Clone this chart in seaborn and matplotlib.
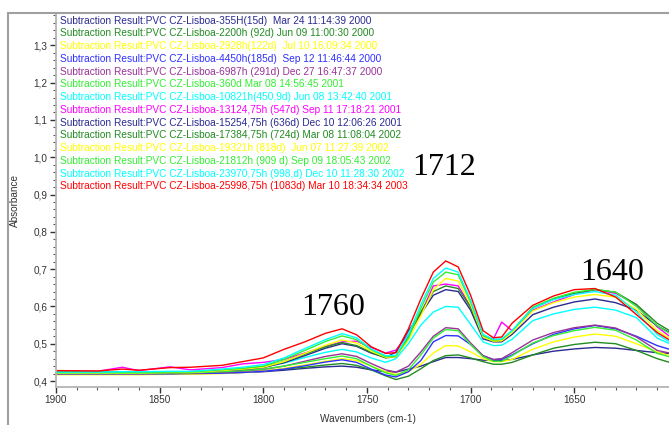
"""
plot.py - FTIR subtraction spectra of PVC CZ-Lisboa samples (carbonyl region)
"""

import pandas as pd
import matplotlib
matplotlib.use('Agg')
import matplotlib.pyplot as plt
from matplotlib.lines import Line2D
from matplotlib.ticker import FuncFormatter, MultipleLocator
import seaborn as sns

# Wavenumber grid (cm-1)
WAVENUMBERS = [1900, 1880, 1868, 1860, 1845, 1835, 1820, 1810, 1800, 1790, 1780, 1770,
               1762, 1755, 1748, 1741, 1736, 1730, 1724, 1718, 1712, 1706, 1700, 1694,
               1689, 1685, 1680, 1670, 1660, 1650, 1640, 1630, 1620, 1610, 1604]

LABELS = [
    "Subtraction Result:PVC CZ-Lisboa-355H(15d)  Mar 24 11:14:39 2000",
    "Subtraction Result:PVC CZ-Lisboa-2200h (92d) Jun 09 11:00:30 2000",
    "Subtraction Result:PVC CZ-Lisboa-2928h(122d)  Jul 10 16:09:34 2000",
    "Subtraction Result:PVC CZ-Lisboa-4450h(185d)  Sep 12 11:46:44 2000",
    "Subtraction Result:PVC CZ-Lisboa-6987h (291d) Dec 27 16:47:37 2000",
    "Subtraction Result:PVC CZ-Lisboa-360d Mar 08 14:56:45 2001",
    "Subtraction Result:PVC CZ-Lisboa-10821h(450,9d) Jun 08 13:42:40 2001",
    "Subtraction Result:PVC CZ-Lisboa-13124,75h (547d) Sep 11 17:18:21 2001",
    "Subtraction Result:PVC CZ-Lisboa-15254,75h (636d) Dec 10 12:06:26 2001",
    "Subtraction Result:PVC CZ-Lisboa-17384,75h (724d) Mar 08 11:08:04 2002",
    "Subtraction Result:PVC CZ-Lisboa-19321h (818d)  Jun 07 11:27:39 2002",
    "Subtraction Result:PVC CZ-Lisboa-21812h (909 d) Sep 09 18:05:43 2002",
    "Subtraction Result:PVC CZ-Lisboa-23970,75h (998,d) Dec 10 11:28:30 2002",
    "Subtraction Result:PVC CZ-Lisboa-25998,75h (1083d) Mar 10 18:34:34 2003",
]

COLORS = ['#2a2a90', '#228b22', '#ffff00', '#3030ff', '#993399', '#33ee33', '#00ffff',
          '#ff00ff', '#2a2a90', '#228b22', '#ffff00', '#33ee33', '#00ffff', '#ff0000']

# Absorbance values, one list per spectrum (same order as LABELS)
S01 = [.419, .419, .419, .419, .420, .420, .421, .423, .425, .429, .434, .438, .440, .437, .430, .425, .424,
       .432, .440, .452, .463, .463, .460, .456, .455, .455, .458, .470, .480, .486, .490, .488, .482, .476, .474]
S02 = [.421, .421, .420, .420, .421, .421, .422, .424, .427, .432, .437, .443, .447, .442, .430, .414, .404,
       .413, .433, .455, .468, .470, .462, .452, .445, .445, .450, .470, .488, .498, .504, .500, .482, .460, .450]
S03 = [.417, .417, .417, .417, .418, .418, .420, .423, .427, .434, .443, .453, .460, .455, .440, .425, .418,
       .425, .445, .475, .495, .494, .478, .460, .452, .452, .458, .485, .505, .518, .526, .520, .500, .478, .468]
S04 = [.419, .419, .419, .419, .419, .420, .421, .423, .426, .432, .441, .451, .457, .450, .432, .416, .411,
       .425, .455, .505, .522, .521, .498, .468, .457, .458, .470, .500, .525, .540, .549, .540, .520, .495, .485]
S05 = [.420, .420, .420, .420, .421, .421, .424, .427, .431, .440, .453, .466, .473, .466, .447, .430, .424,
       .440, .478, .520, .543, .540, .502, .468, .458, .460, .476, .510, .530, .543, .550, .542, .518, .482, .475]
S06 = [.421, .421, .421, .421, .422, .422, .425, .428, .432, .440, .450, .460, .467, .460, .440, .422, .415,
       .430, .470, .515, .538, .535, .498, .465, .453, .453, .468, .502, .522, .535, .544, .536, .510, .474, .465]
S07 = [.423, .423, .423, .423, .424, .424, .428, .432, .438, .448, .463, .477, .485, .478, .462, .450, .460,
       .500, .550, .585, .600, .598, .552, .505, .495, .496, .512, .562, .580, .592, .598, .590, .570, .515, .500]
S08 = [.427, .426, .437, .428, .438, .430, .436, .446, .450, .458, .475, .493, .505, .507, .490, .475, .483,
       .525, .580, .655, .660, .655, .600, .520, .513, .558, .535, .590, .612, .632, .645, .635, .605, .545, .520]
S09 = [.424, .424, .424, .424, .425, .425, .428, .431, .436, .449, .468, .488, .500, .493, .475, .463, .478,
       .535, .580, .630, .645, .640, .590, .513, .505, .505, .525, .578, .598, .612, .620, .610, .590, .548, .530]
S10 = [.425, .424, .424, .424, .425, .425, .429, .432, .438, .452, .472, .492, .503, .495, .477, .462, .465,
       .520, .585, .640, .655, .648, .598, .518, .507, .508, .532, .595, .620, .635, .645, .638, .605, .555, .535]
S11 = [.422, .422, .422, .422, .423, .423, .428, .432, .437, .452, .474, .496, .510, .502, .480, .464, .465,
       .510, .575, .645, .675, .668, .605, .518, .507, .508, .530, .588, .610, .625, .632, .625, .592, .535, .515]
S12 = [.423, .423, .423, .423, .424, .424, .430, .434, .440, .458, .482, .506, .521, .511, .484, .466, .467,
       .515, .595, .665, .692, .685, .612, .522, .510, .512, .535, .598, .622, .638, .646, .638, .600, .548, .528]
S13 = [.424, .424, .425, .425, .426, .426, .432, .437, .444, .462, .487, .511, .527, .516, .486, .468, .469,
       .525, .605, .675, .703, .692, .617, .525, .512, .513, .535, .595, .618, .632, .640, .630, .585, .525, .505]
S14 = [.428, .427, .432, .429, .436, .437, .442, .452, .462, .485, .505, .528, .540, .524, .492, .474, .476,
       .540, .620, .692, .722, .706, .630, .535, .516, .518, .555, .603, .628, .645, .648, .625, .578, .530, .510]

SERIES = [S01, S02, S03, S04, S05, S06, S07, S08, S09, S10, S11, S12, S13, S14]

# Band annotations
PEAK_LABELS = ['1760', '1712', '1640']
PEAK_X = [1766.4, 1712.6, 1631.6]
PEAK_Y = [0.577, 0.952, 0.670]

W, H = 669, 425

# Long-form table for seaborn
frames = []
for label, vals in zip(LABELS, SERIES):
    frames.append(pd.DataFrame({'wn': WAVENUMBERS, 'absorbance': vals, 'spectrum': label}))
df = pd.concat(frames, ignore_index=True)

sns.set_style('ticks')
plt.rcParams['font.family'] = ['Liberation Sans', 'DejaVu Sans']

fig = plt.figure(figsize=(W / 100, H / 100), dpi=100)
ax = fig.add_axes([56 / W, 38 / H, (W - 56) / W, (387 - 14) / H])

sns.lineplot(data=df, x='wn', y='absorbance', hue='spectrum', hue_order=LABELS,
             palette=dict(zip(LABELS, COLORS)), sort=False, estimator=None,
             linewidth=1.0, legend=False, ax=ax)

ax.set_xlim(1900, 1604.3)
ax.set_ylim(0.384, 1.384)

comma = FuncFormatter(lambda v, pos: f'{v:.1f}'.replace('.', ','))
ax.yaxis.set_major_locator(MultipleLocator(0.1))
ax.yaxis.set_minor_locator(MultipleLocator(0.02))
ax.yaxis.set_major_formatter(comma)
ax.xaxis.set_major_locator(MultipleLocator(50))
ax.xaxis.set_minor_locator(MultipleLocator(10))
ax.xaxis.set_major_formatter(FuncFormatter(lambda v, pos: f'{v:.0f}'))

ax.tick_params(which='major', length=4, width=1, color='#333333', labelsize=7.2,
               labelcolor='#333333', pad=2)
ax.tick_params(which='minor', length=2.5, width=0.8, color='#555555')

sns.despine(ax=ax, top=True, right=True)
for side in ['left', 'bottom']:
    ax.spines[side].set_color('#b4b4b4')
    ax.spines[side].set_linewidth(1.3)

ax.set_xlabel('')
ax.set_ylabel('')
fig.text(368 / W, 1 - 419 / H, 'Wavenumbers (cm-1)', ha='center', va='center',
         fontsize=7.2, color='#333333')
fig.text(15 / W, 1 - 201 / H, 'Absorbance', ha='center', va='center', rotation=90,
         fontsize=7.2, color='#333333')

# Colored legend lines
for i, (label, color) in enumerate(zip(LABELS, COLORS)):
    y_px = 20.7 + i * 12.75
    fig.text(60 / W, 1 - y_px / H, label, ha='left', va='center', fontsize=7.25, color=color)

# Peak annotations
for txt, x, y in zip(PEAK_LABELS, PEAK_X, PEAK_Y):
    ax.text(x, y, txt, ha='center', va='baseline', fontsize=23,
            family=['Liberation Serif', 'DejaVu Serif'], color='black')

# Outer frame
fig.add_artist(Line2D([8 / W, 8 / W], [0, 1 - 13 / H], transform=fig.transFigure,
                      color='#a0a0a0', linewidth=1.5))
fig.add_artist(Line2D([8 / W, 1], [1 - 13 / H, 1 - 13 / H], transform=fig.transFigure,
                      color='#a0a0a0', linewidth=1.5))

fig.savefig('out.png', dpi=100)
plt.close()
